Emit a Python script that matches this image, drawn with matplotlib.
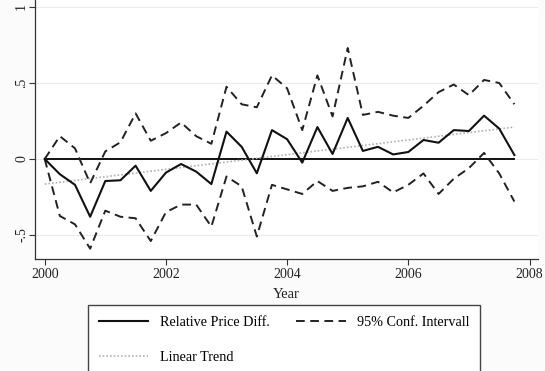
import numpy as np
import matplotlib
matplotlib.use("Agg")
import matplotlib.pyplot as plt

plt.rcParams['font.family'] = ['Liberation Serif', 'DejaVu Serif']

# quarterly observations, 2000q1 .. 2007q4
quarters = 2000 + np.arange(32) / 4.0

price_diff = [0.0, -0.10, -0.17, -0.38, -0.145, -0.14, -0.044, -0.21,
              -0.09, -0.033, -0.083, -0.165, 0.18, 0.08, -0.094, 0.19,
              0.13, -0.024, 0.21, 0.033, 0.27, 0.053, 0.08, 0.03,
              0.046, 0.125, 0.107, 0.19, 0.184, 0.285, 0.20, 0.026]
ci_upper = [0.0, 0.15, 0.07, -0.16, 0.05, 0.11, 0.30, 0.12,
            0.17, 0.24, 0.15, 0.10, 0.475, 0.36, 0.34, 0.55,
            0.465, 0.19, 0.55, 0.28, 0.73, 0.29, 0.31, 0.285,
            0.27, 0.35, 0.44, 0.49, 0.42, 0.52, 0.50, 0.36]
ci_lower = [0.0, -0.375, -0.43, -0.59, -0.34, -0.38, -0.39, -0.54,
            -0.35, -0.30, -0.30, -0.445, -0.115, -0.18, -0.51, -0.17,
            -0.20, -0.23, -0.145, -0.21, -0.19, -0.18, -0.15, -0.22,
            -0.17, -0.095, -0.23, -0.13, -0.06, 0.04, -0.095, -0.28]
trend_ends = [-0.165, 0.21]

year_ticks = [2000, 2002, 2004, 2006, 2008]
y_ticks = [-0.5, 0, 0.5, 1]
y_labels = ['-.5', '0', '.5', '1']

fig = plt.figure(figsize=(5.45, 3.71), dpi=100, facecolor='#fbfbfb')
ax = fig.add_axes([35 / 545, 1 - 259 / 371, 503 / 545, 259 / 371])

ax.grid(axis='y', color='#ebebeb', lw=0.8)
ax.set_axisbelow(True)

ax.plot(quarters, np.zeros(len(quarters)), color='#111111', lw=1.4)
l_trend, = ax.plot([quarters[0], quarters[-1]], trend_ends, color='#b0b0b0',
                   lw=1.2, ls=(0, (1, 1.2)))
l_ci, = ax.plot(quarters, ci_upper, color='#222222', lw=1.4,
                ls=(0, (4.5, 2.8)))
ax.plot(quarters, ci_lower, color='#222222', lw=1.4, ls=(0, (4.5, 2.8)))
l_main, = ax.plot(quarters, price_diff, color='#111111', lw=1.5)

ax.set_xlim(1999.84, 2008.14)
ax.set_ylim(-0.658, 1.046)
ax.set_xticks(year_ticks)
ax.set_yticks(y_ticks)
ax.set_yticklabels(y_labels, rotation=90, va='center')
ax.tick_params(axis='both', direction='out', length=4, width=0.8,
               color='#333333', labelsize=10, labelcolor='#222222')
ax.tick_params(axis='y', pad=1)
ax.tick_params(axis='x', pad=2.5)
for side in ['top', 'right']:
    ax.spines[side].set_visible(False)
for side in ['left', 'bottom']:
    ax.spines[side].set_color('#333333')
    ax.spines[side].set_linewidth(0.9)
ax.set_xlabel('Year', fontsize=10.5, color='#222222', labelpad=5)

fig.legend([l_main, l_trend, l_ci],
           ['Relative Price Diff.', 'Linear Trend', '95% Conf. Intervall'],
           ncol=2, loc='upper left', bbox_to_anchor=(88 / 545, 1 - 305 / 371),
           borderaxespad=0, frameon=True, fancybox=False,
           edgecolor='#444444', facecolor='white', fontsize=10.2,
           handlelength=3.5, handletextpad=0.8, columnspacing=1.9,
           labelspacing=1.6, borderpad=0.75, framealpha=1)

fig.savefig('out.png', dpi=100, facecolor=fig.get_facecolor())
